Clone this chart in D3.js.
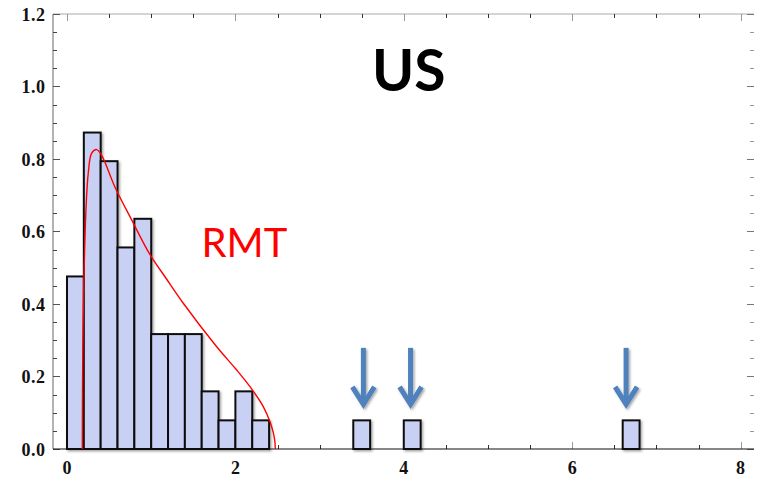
<!DOCTYPE html>
<html><head><meta charset="utf-8">
<script src="https://cdn.jsdelivr.net/npm/d3@7"></script>
<style>
html,body{margin:0;padding:0;background:#fff;}
svg{display:block;}
</style></head>
<body>
<script>
// ---- data ----
const binStarts = [0,0.2,0.4,0.6,0.8,1.0,1.2,1.4,1.6,1.8,2.0,2.2,3.4,4.0,6.6];
const binWidth = 0.2;
const binHeights = [0.476,0.873,0.794,0.556,0.635,0.317,0.317,0.317,0.159,0.079,0.159,0.079,0.079,0.079,0.079];
const rmtX = [0.182,0.183,0.186,0.19,0.197,0.205,0.226,0.253,0.293,0.353,0.412,0.57,0.768,0.986,1.176,1.381,1.778,2.0,2.173,2.331,2.411,2.45,2.468,2.474];
const rmtY = [0.0,0.10,0.22,0.32,0.43,0.51,0.665,0.762,0.816,0.826,0.810,0.722,0.632,0.536,0.471,0.402,0.282,0.222,0.172,0.117,0.075,0.045,0.022,0.0];
const arrowX = [3.52,4.08,6.64];
const arrowTopY = 0.279, arrowTipY = 0.108;
const xTickLabels = [0,2,4,6,8];
const yTickLabels = [0,0.2,0.4,0.6,0.8,1.0,1.2];
const titleText = "US";
const curveLabel = "RMT";

// ---- layout ----
const W = 759, H = 477;
const frameL = 53, frameR = 754, frameT = 14, frameB = 449;
const svg = d3.select("body").append("svg").attr("width",W).attr("height",H);
const x = d3.scaleLinear().domain([0,8]).range([67,740.6]);
const y = d3.scaleLinear().domain([0,1.2]).range([frameB,frameT]);

const defs = svg.append("defs");
const sh = defs.append("filter").attr("id","sh").attr("x","-20%").attr("y","-20%").attr("width","160%").attr("height","160%");
sh.append("feDropShadow").attr("dx",1.5).attr("dy",1.5).attr("stdDeviation",1).attr("flood-color","#000").attr("flood-opacity",0.35);

// frame lines
svg.append("line").attr("x1",frameL).attr("x2",frameR).attr("y1",frameT).attr("y2",frameT).attr("stroke","#aaa").attr("stroke-width",1);
svg.append("line").attr("x1",frameL).attr("x2",frameL).attr("y1",frameT).attr("y2",frameB).attr("stroke","#666").attr("stroke-width",1);

// ticks
const xMinor = d3.range(0,8.01,0.5);
const yMinor = d3.range(0,1.2001,0.05);
const isMajX = v => Math.abs(v/2 - Math.round(v/2))<1e-6;
const isMajY = v => Math.abs(v/0.2 - Math.round(v/0.2))<1e-6;
const tk = svg.append("g").attr("stroke","#333").attr("stroke-width",1);
xMinor.forEach(v=>{
  const L = isMajX(v)?7:4;
  const px = Math.round(x(v))+0.5;
  tk.append("line").attr("x1",px).attr("x2",px).attr("y1",frameB).attr("y2",frameB-L).attr("stroke",isMajX(v)?"#999":"#333");
  tk.append("line").attr("x1",px).attr("x2",px).attr("y1",frameT).attr("y2",frameT+L).attr("stroke",isMajX(v)?"#999":"#333");
});
yMinor.forEach(v=>{
  const L = isMajY(v)?7:4;
  const py = Math.round(y(v))+0.5;
  tk.append("line").attr("x1",frameL).attr("x2",frameL+L).attr("y1",py).attr("y2",py).attr("stroke",isMajY(v)?"#555":"#444");
  tk.append("line").attr("x1",frameR).attr("x2",frameR-L).attr("y1",py).attr("y2",py).attr("stroke",isMajY(v)?"#777":"#999");
});

// tick labels
const lab = svg.append("g").attr("font-family","'Liberation Serif','DejaVu Serif',serif").attr("font-weight","bold").attr("font-size",18).attr("fill","#111");
xTickLabels.forEach(v=>{
  lab.append("text").attr("x",x(v)).attr("y",474).attr("text-anchor","middle").text(d3.format("d")(v));
});
yTickLabels.forEach(v=>{
  lab.append("text").attr("x",45.5).attr("y",y(v)+6.5).attr("text-anchor","end").attr("letter-spacing",0.5).text(d3.format(".1f")(v));
});

// bars
const bars = svg.append("g").attr("filter","url(#sh)");
bars.selectAll("rect").data(binStarts).join("rect")
  .attr("x",d=>x(d)).attr("width",d=>x(d+binWidth)-x(d))
  .attr("y",(d,i)=>y(binHeights[i])).attr("height",(d,i)=>y(0)-y(binHeights[i]))
  .attr("fill","#c8d0f3").attr("stroke","#111").attr("stroke-width",2);

// bottom axis line
svg.append("line").attr("x1",frameL).attr("x2",frameR).attr("y1",frameB).attr("y2",frameB).attr("stroke","#111").attr("stroke-width",1.2);

// RMT curve
const pts = rmtX.map((v,i)=>[v,rmtY[i]]);
svg.append("path").datum(pts)
  .attr("d",d3.line().x(d=>x(d[0])).y(d=>y(d[1])).curve(d3.curveCatmullRom.alpha(0.5)))
  .attr("fill","none").attr("stroke","#ff0000").attr("stroke-width",1.4);

// arrows
const arr = svg.append("g").attr("filter","url(#sh)").attr("stroke","#4f81bd").attr("fill","none").attr("stroke-width",5);
arrowX.forEach(v=>{
  const px = x(v), top = y(arrowTopY), tip = y(arrowTipY);
  arr.append("line").attr("x1",px).attr("x2",px).attr("y1",top).attr("y2",tip-6);
  arr.append("path").attr("d",`M${px-11},${tip-23}L${px},${tip-5.5}L${px+11},${tip-23}`)
    .attr("stroke-linejoin","miter").attr("stroke-linecap","butt");
});

// texts
svg.append("text").attr("x",408.7).attr("y",91).attr("text-anchor","middle")
  .attr("font-family","Lato,'Open Sans',sans-serif").attr("font-weight","bold").attr("font-size",57).attr("fill","#000").text(titleText);
svg.append("text").attr("x",201.5).attr("y",256.7)
  .attr("font-family","Lato,'Open Sans',sans-serif").attr("font-size",40).attr("fill","#ff0000").text(curveLabel);
</script>
</body></html>
